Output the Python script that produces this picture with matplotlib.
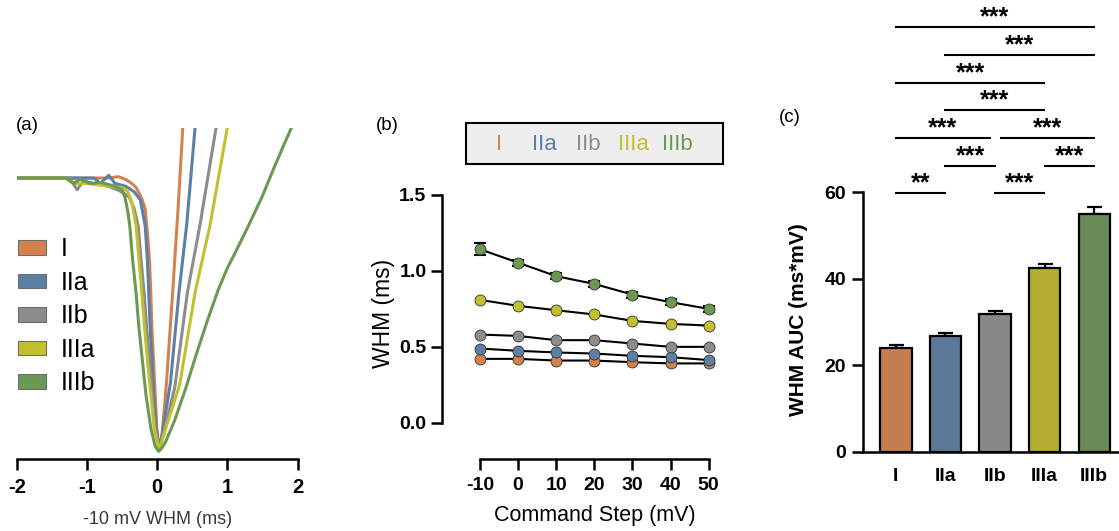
import matplotlib
matplotlib.use("Agg")
import matplotlib.pyplot as plt
from matplotlib.patches import Patch, Rectangle

plt.rcParams['font.family'] = ['Liberation Sans', 'DejaVu Sans']

# ---------------- data ----------------
groups = ["I", "IIa", "IIb", "IIIa", "IIIb"]
line_colors = ["#d4814f", "#5b7fa6", "#8c8c8c", "#c2c02e", "#6a9a52"]
bar_colors = ["#c27d50", "#5b7998", "#888888", "#b5ae33", "#6a8a5a"]

# (a) normalised -10 mV traces: time (ms) and normalised amplitude
trace_I_t = [-2.0, -1.0, -0.70, -0.55, -0.45, -0.36, -0.30, -0.22, -0.17, -0.14, -0.11,
             -0.09, -0.076, -0.05, -0.028, -0.005, 0.03, 0.07, 0.13, 0.22, 0.30, 0.365, 0.40]
trace_I_v = [0.0, 0.0, 0.0, 0.005, -0.005, -0.02, -0.035, -0.075, -0.115, -0.20, -0.30,
             -0.43, -0.55, -0.68, -0.80, -0.92, -1.0, -0.94, -0.76, -0.42, -0.10, 0.188, 0.33]

trace_IIa_t = [-2.0, -0.9, -0.81, -0.69, -0.60, -0.45, -0.33, -0.24, -0.17, -0.14, -0.12,
               -0.10, -0.076, -0.05, -0.015, 0.03, 0.08, 0.19, 0.31, 0.42, 0.54, 0.58]
trace_IIa_v = [0.0, 0.0, -0.02, 0.01, -0.02, -0.03, -0.05, -0.08, -0.177, -0.30, -0.425,
               -0.55, -0.673, -0.797, -0.92, -1.0, -0.93, -0.75, -0.42, -0.171, 0.188, 0.30]

trace_IIb_t = [-2.0, -1.25, -1.14, -1.05, -0.90, -0.70, -0.55, -0.45, -0.40, -0.33, -0.27,
               -0.23, -0.185, -0.15, -0.11, -0.07, -0.03, 0.03, 0.10, 0.25, 0.43, 0.61, 0.84, 0.90]
trace_IIb_v = [0.0, 0.0, -0.043, -0.01, -0.02, -0.03, -0.045, -0.06, -0.07, -0.11, -0.177,
               -0.30, -0.425, -0.55, -0.673, -0.797, -0.92, -1.0, -0.93, -0.77, -0.42, -0.171, 0.188, 0.27]

trace_IIIa_t = [-2.0, -1.3, -1.2, -1.0, -0.70, -0.50, -0.42, -0.36, -0.30, -0.26, -0.218,
                -0.18, -0.138, -0.09, -0.043, 0.03, 0.11, 0.32, 0.54, 0.754, 1.0, 1.05]
trace_IIIa_v = [0.0, 0.0, -0.02, -0.02, -0.03, -0.035, -0.05, -0.09, -0.177, -0.30, -0.425,
                -0.55, -0.673, -0.797, -0.92, -1.0, -0.93, -0.76, -0.42, -0.171, 0.188, 0.25]

trace_IIIb_t = [-2.0, -1.3, -1.19, -1.10, -0.95, -0.81, -0.60, -0.50, -0.46, -0.42, -0.39,
                -0.35, -0.30, -0.26, -0.21, -0.16, -0.09, -0.03, 0.02, 0.06, 0.12, 0.25,
                0.41, 0.56, 0.72, 0.87, 1.0, 1.1, 1.3, 1.5, 1.65, 1.8, 1.916, 1.95]
trace_IIIb_v = [0.0, 0.0, -0.02, -0.005, -0.02, -0.016, -0.03, -0.045, -0.07, -0.12, -0.177,
                -0.30, -0.425, -0.55, -0.673, -0.797, -0.92, -0.985, -1.005, -0.995, -0.97, -0.89,
                -0.77, -0.645, -0.52, -0.41, -0.33, -0.28, -0.175, -0.065, 0.03, 0.12, 0.188, 0.22]

traces_t = [trace_I_t, trace_IIa_t, trace_IIb_t, trace_IIIa_t, trace_IIIb_t]
traces_v = [trace_I_v, trace_IIa_v, trace_IIb_v, trace_IIIa_v, trace_IIIb_v]

# (b) WHM vs command step
steps = [-10, 0, 10, 20, 30, 40, 50]
whm_I = [0.420, 0.420, 0.409, 0.409, 0.398, 0.390, 0.390]
whm_IIa = [0.488, 0.473, 0.462, 0.455, 0.440, 0.431, 0.412]
whm_IIb = [0.580, 0.571, 0.543, 0.543, 0.521, 0.499, 0.499]
whm_IIIa = [0.808, 0.769, 0.740, 0.712, 0.670, 0.650, 0.639]
whm_IIIb = [1.141, 1.053, 0.964, 0.913, 0.843, 0.793, 0.749]
whm_IIIb_sem = [0.04, 0.02, 0.02, 0.02, 0.02, 0.02, 0.02]
whm_all = [whm_I, whm_IIa, whm_IIb, whm_IIIa, whm_IIIb]

# (c) WHM AUC
auc_mean = [24.1, 26.8, 31.8, 42.6, 54.9]
auc_sem = [0.5, 0.7, 0.8, 0.9, 1.6]

# significance comparisons: (group a, group b, stars, stack level)
comparisons = [
    ("I", "IIa", "**", 0), ("IIb", "IIIa", "***", 0),
    ("IIa", "IIb", "***", 1), ("IIIa", "IIIb", "***", 1),
    ("I", "IIb", "***", 2), ("IIb", "IIIb", "***", 2),
    ("IIa", "IIIa", "***", 3), ("I", "IIIa", "***", 4),
    ("IIa", "IIIb", "***", 5), ("I", "IIIb", "***", 6),
]

# ---------------- figure ----------------
W, H = 1119, 531
fig = plt.figure(figsize=(W / 100, H / 100), dpi=100)

def px_axes(x0, y_bottom, x1, y_top):
    return fig.add_axes([x0 / W, (H - y_bottom) / H, (x1 - x0) / W, (y_bottom - y_top) / H])

SPW = 1.8
TICKFS = 14

# ---- panel (a)
axA = px_axes(16.7, 459, 297.7, 128)
for c, t, v in zip(line_colors, traces_t, traces_v):
    axA.plot(t, v, color=c, lw=2.2, solid_joinstyle='round', solid_capstyle='round')
axA.set_xlim(-2, 2)
axA.set_ylim(-1.033, 0.184)
for s in ["left", "top", "right"]:
    axA.spines[s].set_visible(False)
axA.spines["bottom"].set_linewidth(SPW)
axA.set_yticks([])
axA.set_xticks([-2, -1, 0, 1, 2])
axA.set_xticklabels(["-2", "-1", "0", "1", "2"], fontweight='bold', fontsize=14.5)
axA.tick_params(axis='x', direction='out', length=7.7, width=SPW, pad=6)
axA.set_xlabel("-10 mV WHM (ms)", fontsize=13, color="#3a3a3a")
axA.xaxis.set_label_coords(0.5, -0.156)
handles = [Patch(facecolor=c, edgecolor="#6e6e6e", lw=0.8) for c in line_colors]
axA.legend(handles, groups, loc='upper left', bbox_to_anchor=(0.005, 0.67), frameon=False,
           fontsize=18, handlelength=1.12, handleheight=0.52, handletextpad=0.6,
           labelspacing=0.38, borderpad=0, borderaxespad=0)

# ---- panel (b)
axB = px_axes(442, 459, 720, 180)
for c, ys in zip(line_colors, whm_all):
    axB.plot(steps, ys, color='black', lw=1.5, zorder=2)
axB.errorbar(steps, whm_IIIb, yerr=whm_IIIb_sem, fmt='none', ecolor='black',
             elinewidth=1.5, capsize=4.3, capthick=1.5, zorder=2)
for c, ys in zip(line_colors, whm_all):
    axB.plot(steps, ys, linestyle='none', marker='o', markersize=7.9,
             markerfacecolor=c, markeredgecolor='#333333', markeredgewidth=0.6, zorder=3)
axB.set_xlim(-19.97, 52.97)
axB.set_ylim(-0.239, 1.597)
for s in ["top", "right"]:
    axB.spines[s].set_visible(False)
axB.spines["left"].set_bounds(0, 1.5)
axB.spines["bottom"].set_bounds(-10, 50)
axB.spines["left"].set_linewidth(SPW)
axB.spines["bottom"].set_linewidth(SPW)
axB.set_xticks(steps)
axB.set_xticklabels([str(s) for s in steps], fontweight='bold', fontsize=TICKFS)
axB.set_yticks([0, 0.5, 1.0, 1.5])
axB.set_yticklabels(["0.0", "0.5", "1.0", "1.5"], fontweight='bold', fontsize=TICKFS)
axB.tick_params(axis='x', direction='out', length=7.7, width=SPW, pad=5)
axB.tick_params(axis='y', direction='out', length=7.7, width=SPW, pad=3.5)
axB.set_xlabel("Command Step (mV)", fontsize=15.5)
axB.xaxis.set_label_coords(0.55, -0.165)
axB.set_ylabel("WHM (ms)", fontsize=16.5)
axB.yaxis.set_label_coords(-0.168, 0.523)

# legend box for (b)
fig.patches.append(Rectangle((466 / W, (H - 164) / H), (723 - 466) / W, (164 - 122.7) / H,
                             transform=fig.transFigure, facecolor="#eeeeee",
                             edgecolor="black", lw=1.5))
leg_x = [499, 544.5, 588.5, 633, 677.5]
for g, c, x in zip(groups, line_colors, leg_x):
    fig.text(x / W, (H - 144.5) / H, g, color=c, fontsize=16, ha='center', va='center')

# ---- panel (c)
axC = px_axes(862.7, 451.7, 1118, 2.1)
xpos = list(range(len(groups)))
axC.bar(xpos, auc_mean, width=0.63, color=bar_colors, edgecolor='black', linewidth=1.6, zorder=2)
axC.errorbar(xpos, auc_mean, yerr=[[0] * len(auc_sem), auc_sem], fmt='none', ecolor='black',
             elinewidth=1.6, capsize=5.4, capthick=1.6, zorder=1)
axC.set_xlim(-0.67, 4.48)
axC.set_ylim(0, 104)
for s in ["top", "right"]:
    axC.spines[s].set_visible(False)
axC.spines["left"].set_bounds(0, 60)
axC.spines["left"].set_linewidth(SPW)
axC.spines["bottom"].set_linewidth(SPW)
axC.set_yticks([0, 20, 40, 60])
axC.set_yticklabels(["0", "20", "40", "60"], fontweight='bold', fontsize=TICKFS)
axC.tick_params(axis='y', direction='out', length=8, width=SPW, pad=4)
axC.set_xticks(xpos)
axC.set_xticklabels(groups, fontweight='bold', fontsize=TICKFS)
axC.tick_params(axis='x', length=0, pad=12)
axC.set_ylabel("WHM AUC (ms*mV)", fontsize=15, fontweight='bold')
axC.yaxis.set_label_coords(-0.214, 0.293)

base_y, step_y, trim = 59.8, 6.4, 0.09
idx = {g: i for i, g in enumerate(groups)}
ends = {}
for a, b, lab, lev in comparisons:
    ends.setdefault(lev, []).append((idx[a], idx[b]))
for a, b, lab, lev in comparisons:
    i, j = idx[a], idx[b]
    x0, x1 = i - 0.02, j + 0.01
    others = [e for e in ends[lev] if e != (i, j)]
    if any(o[0] == j for o in others):
        x1 = j - trim
    if any(o[1] == i for o in others):
        x0 = i + trim
    y = base_y + lev * step_y
    axC.plot([x0, x1], [y, y], color='black', lw=1.5, clip_on=False, solid_capstyle='butt')
    axC.text((x0 + x1) / 2, y + 0.6, lab, ha='center', va='baseline', fontsize=18,
             fontweight='bold', clip_on=False)

# panel labels
fig.text(27 / W, (H - 126) / H, "(a)", fontsize=13.5, ha='center', va='center')
fig.text(387 / W, (H - 126) / H, "(b)", fontsize=13.5, ha='center', va='center')
fig.text(790 / W, (H - 118) / H, "(c)", fontsize=13.5, ha='center', va='center')

fig.savefig("out.png", dpi=100)
